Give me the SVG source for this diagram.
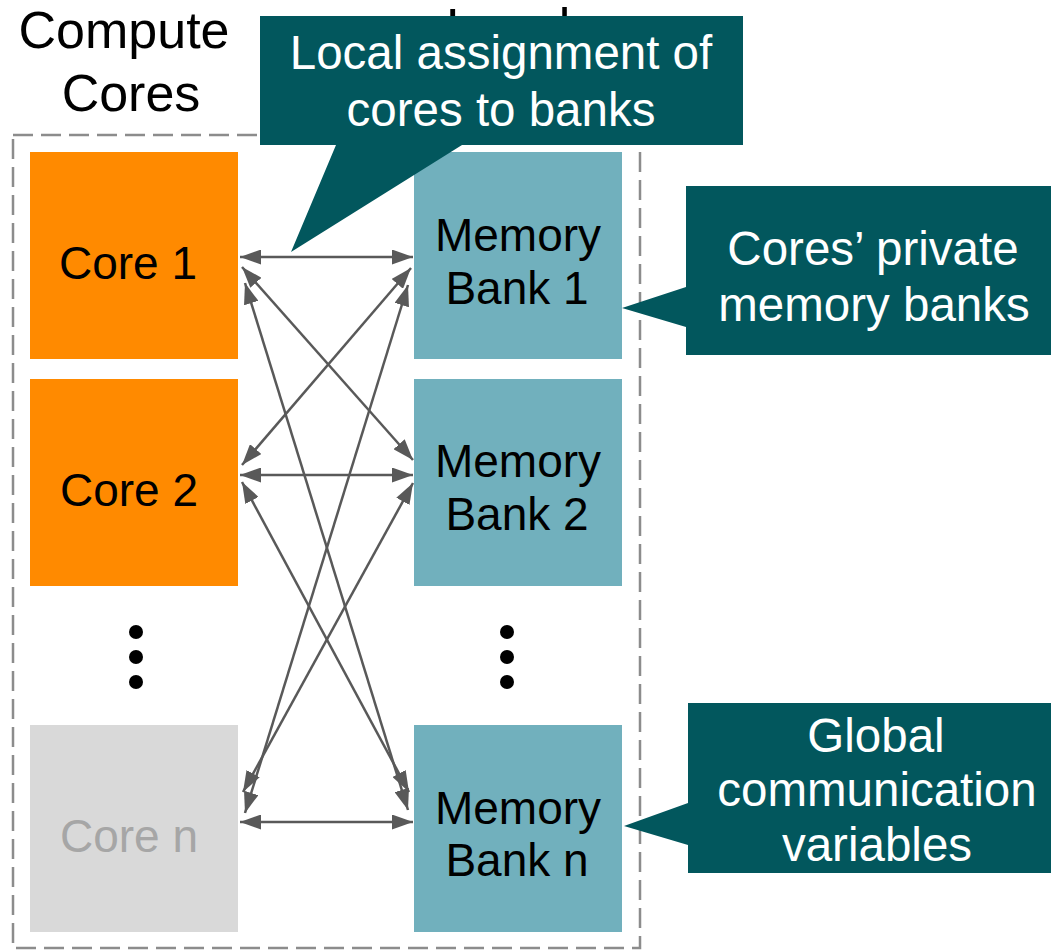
<svg xmlns="http://www.w3.org/2000/svg" width="1051" height="950" viewBox="0 0 1051 950">
  <style>
    .lbl { font-family: "Liberation Sans", Arial, sans-serif; text-anchor: middle; }
    .head { font-size: 52px; fill: #000; }
    .box-text { font-size: 46px; fill: #000; }
    .call-text { font-size: 47.5px; fill: #fff; }
    .core { fill: #ff8a00; }
    .bank { fill: #71b0bd; }
    .callout { fill: #02575d; }
    .link { stroke: #595959; stroke-width: 2.5; fill: none; marker-start: url(#arrow); marker-end: url(#arrow); }
    .dot { fill: #000; }
  </style>
  <defs>
    <marker id="arrow" viewBox="0 0 21 15" refX="21" refY="7.5" markerWidth="21" markerHeight="15" markerUnits="userSpaceOnUse" orient="auto-start-reverse">
      <path d="M0,0 L21,7.5 L0,15 Z" fill="#595959"/>
    </marker>
  </defs>

  <rect width="1051" height="950" fill="#fff"/>

  <!-- column headings -->
  <g id="heading-cores">
    <text class="lbl head" x="124" y="48">Compute</text>
    <text class="lbl head" x="131" y="111">Cores</text>
  </g>
  <g id="heading-memory">
    <text class="lbl head" x="446" y="45" style="text-anchor:start">Local</text>
  </g>

  <!-- dashed frame around cores and banks -->
  <rect id="frame" x="13" y="135" width="627" height="813" fill="none" stroke="#8c8c8c" stroke-width="2.5" stroke-dasharray="20 8"/>

  <!-- compute cores -->
  <g id="core-1">
    <rect class="core" x="30" y="152" width="208" height="207"/>
    <text class="lbl box-text" x="128" y="279">Core 1</text>
  </g>
  <g id="core-2">
    <rect class="core" x="30" y="379" width="208" height="207"/>
    <text class="lbl box-text" x="129" y="506">Core 2</text>
  </g>
  <g id="core-n">
    <rect x="30" y="725" width="208" height="207" fill="#d9d9d9"/>
    <text class="lbl box-text" x="129" y="852" style="fill:#a6a6a6">Core n</text>
  </g>

  <!-- memory banks -->
  <g id="bank-1">
    <rect class="bank" x="414" y="152" width="208" height="207"/>
    <text class="lbl box-text" x="518" y="251">Memory</text>
    <text class="lbl box-text" x="517" y="304">Bank 1</text>
  </g>
  <g id="bank-2">
    <rect class="bank" x="414" y="379" width="208" height="207"/>
    <text class="lbl box-text" x="518" y="477">Memory</text>
    <text class="lbl box-text" x="517" y="530">Bank 2</text>
  </g>
  <g id="bank-n">
    <rect class="bank" x="414" y="725" width="208" height="207"/>
    <text class="lbl box-text" x="518" y="824">Memory</text>
    <text class="lbl box-text" x="517" y="876">Bank n</text>
  </g>

  <!-- ellipses between rows -->
  <g id="dots-cores">
    <circle class="dot" cx="136" cy="632" r="7"/>
    <circle class="dot" cx="136" cy="657" r="7"/>
    <circle class="dot" cx="136" cy="682" r="7"/>
  </g>
  <g id="dots-banks">
    <circle class="dot" cx="507" cy="632" r="7"/>
    <circle class="dot" cx="507" cy="657" r="7"/>
    <circle class="dot" cx="507" cy="682" r="7"/>
  </g>

  <!-- core/bank interconnect -->
  <g id="connectors">
    <line class="link" x1="240" y1="257" x2="413" y2="257"/>
    <line class="link" x1="240" y1="475" x2="413" y2="475"/>
    <line class="link" x1="240" y1="822" x2="413" y2="822"/>
    <line class="link" x1="242" y1="267" x2="413" y2="460"/>
    <line class="link" x1="245" y1="283" x2="408" y2="810"/>
    <line class="link" x1="242" y1="465" x2="411" y2="268"/>
    <line class="link" x1="245" y1="813" x2="408" y2="285"/>
    <line class="link" x1="242" y1="482" x2="409" y2="792"/>
    <line class="link" x1="243" y1="792" x2="413" y2="483"/>
  </g>

  <!-- callouts -->
  <g id="callout-local">
    <path class="callout" d="M260,16 H743 V145 H462 L291,252 L336,145 H260 Z"/>
    <text class="lbl call-text" x="501" y="69">Local assignment of</text>
    <text class="lbl call-text" x="501" y="126">cores to banks</text>
  </g>
  <g id="callout-private">
    <path class="callout" d="M686,186 H1051 V355 H686 V327 L622,308 L686,287 Z"/>
    <text class="lbl call-text" x="873" y="265">Cores’ private</text>
    <text class="lbl call-text" x="874" y="321">memory banks</text>
  </g>
  <g id="callout-global">
    <path class="callout" d="M688,703 H1051 V873 H688 V845 L624,826 L688,803 Z"/>
    <text class="lbl call-text" x="876" y="752">Global</text>
    <text class="lbl call-text" x="877" y="806">communication</text>
    <text class="lbl call-text" x="877" y="861">variables</text>
  </g>
</svg>
